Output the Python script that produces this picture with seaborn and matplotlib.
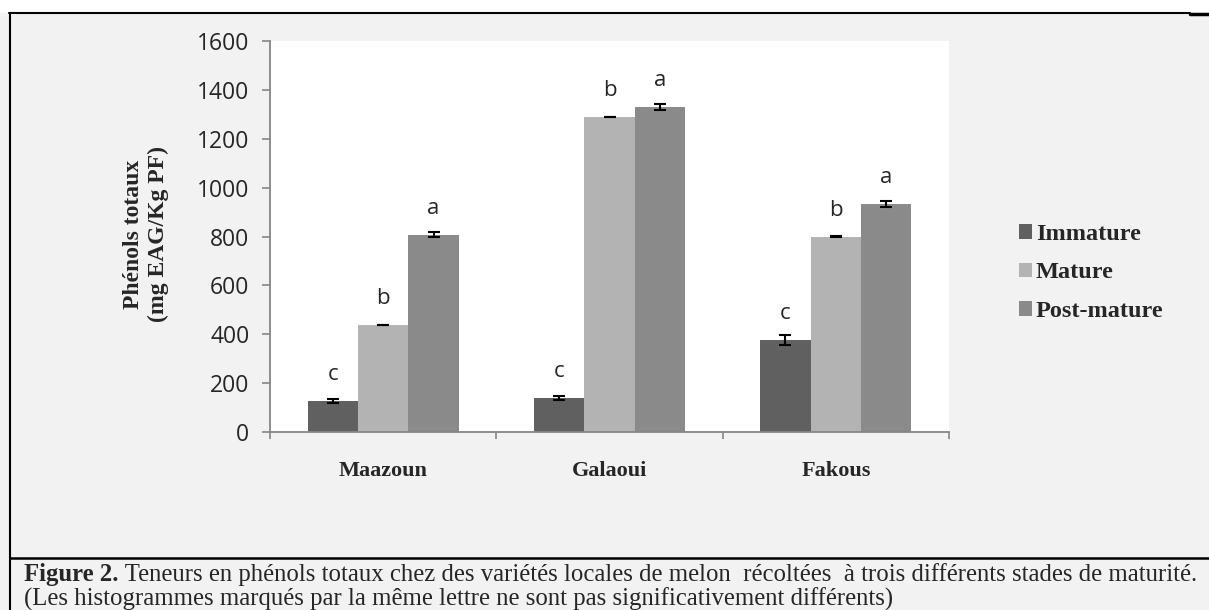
import numpy as np
import pandas as pd
import seaborn as sns
import matplotlib.pyplot as plt
from matplotlib.patches import Patch, Rectangle
from matplotlib.lines import Line2D

# data
varieties = ['Maazoun', 'Galaoui', 'Fakous']
stages = ['Immature', 'Mature', 'Post-mature']
immature = [128, 140, 375]
mature = [438, 1290, 800]
post_mature = [808, 1331, 934]
err_immature = [8, 8, 20]
err_mature = [1, 1, 1]
err_post_mature = [10, 12, 12]
letters_immature = ['c', 'c', 'c']
letters_mature = ['b', 'b', 'b']
letters_post_mature = ['a', 'a', 'a']
colors = ['#606060', '#b3b3b3', '#8a8a8a']

cap_bold = 'Figure 2.'
cap_rest = (' Teneurs en phénols totaux chez des variétés locales de melon  '
            'récoltées  à trois différents stades de maturité.')
cap_line2 = '(Les histogrammes marqués par la même lettre ne sont pas significativement différents)'

df = pd.DataFrame({
    'variety': varieties * 3,
    'stage': np.repeat(stages, 3),
    'value': immature + mature + post_mature,
})
errs = [err_immature, err_mature, err_post_mature]
letters = [letters_immature, letters_mature, letters_post_mature]

sns.set_style('white')
plt.rcParams['font.family'] = ['Open Sans', 'DejaVu Sans']
serif = 'Liberation Serif'

W, H = 1209, 610
fig = plt.figure(figsize=(W / 100, H / 100), dpi=100, facecolor='#f2f2f2')
ax = fig.add_axes([270 / W, 1 - 432 / H, (949 - 270) / W, (432 - 41) / H])
sns.barplot(data=df, x='variety', y='value', hue='stage', palette=colors,
            width=0.668, errorbar=None, saturation=1, legend=False, ax=ax,
            linewidth=0)

# error bars and letters
for cont, e, lab in zip(ax.containers, errs, letters):
    xs = [b.get_x() + b.get_width() / 2 for b in cont]
    hs = [b.get_height() for b in cont]
    ax.errorbar(xs, hs, yerr=e, fmt='none', ecolor='black', elinewidth=1.5,
                capsize=4.3, capthick=1.5)
    for x, h, t in zip(xs, hs, lab):
        ax.annotate(t, (x, h), xytext=(0, 19), textcoords='offset points',
                    ha='center', va='center', fontsize=16)

ax.set_ylim(0, 1600)
ax.set_yticks(range(0, 1601, 200))
ax.set_xlim(-0.5, 2.5)
ax.set_xticks([0, 1, 2], varieties, fontfamily=serif, fontweight='bold', fontsize=16)
ax.set_xticks([-0.5, 0.5, 1.5, 2.5], minor=True)
ax.set_xlabel('')
ax.set_ylabel('')
ax.set_facecolor('white')
for s in ['top', 'right']:
    ax.spines[s].set_visible(False)
for s in ['left', 'bottom']:
    ax.spines[s].set_color('#868686')
    ax.spines[s].set_linewidth(1.3)
ax.tick_params(axis='y', direction='out', length=5.8, width=1.2, color='#868686',
               pad=9, labelsize=16.5, left=True)
ax.tick_params(axis='x', which='major', length=0, pad=21)
ax.tick_params(axis='x', which='minor', direction='out', length=5, width=1.2,
               color='#868686', bottom=True)

fig.text(146 / W, 1 - 234 / H, 'Phénols totaux\n(mg EAG/Kg PF)', rotation=90,
         ha='center', va='center', multialignment='center', family=serif,
         weight='bold', size=17, linespacing=1.25)

handles = [Patch(facecolor=c, edgecolor='none') for c in colors]
fig.legend(handles, stages, loc='center left', bbox_to_anchor=(1019 / W, 1 - 273 / H),
           frameon=False, prop={'family': serif, 'weight': 'bold', 'size': 17.5},
           handlelength=0.55, handleheight=0.55, handletextpad=0.15,
           labelspacing=0.72, borderpad=0, borderaxespad=0)

# frame lines and white strip on top
fig.add_artist(Rectangle((0, 1 - 13 / H), 1, 13 / H, transform=fig.transFigure,
                         facecolor='white', edgecolor='none', zorder=0))
fig.add_artist(Line2D([9 / W, 1190 / W], [1 - 13 / H] * 2, color='black', lw=1.5))
fig.add_artist(Line2D([1190 / W, 1], [1 - 14 / H] * 2, color='black', lw=2.5))
fig.add_artist(Line2D([10 / W, 10 / W], [0, 1 - 13 / H], color='black', lw=1.5))
fig.add_artist(Line2D([10 / W, 1], [1 - 558 / H] * 2, color='black', lw=1.8))

# caption sized to the width of the box
renderer = fig.canvas.get_renderer()


def caption_width(fs):
    t1 = fig.text(0, 0, cap_bold, fontsize=fs, fontweight='bold', family=serif)
    t2 = fig.text(0, 0, cap_rest, fontsize=fs, family=serif)
    w = t1.get_window_extent(renderer).width + t2.get_window_extent(renderer).width
    t1.remove()
    t2.remove()
    return w


fs = 14 * 1180 / caption_width(14)
x0 = 24 / W
t1 = fig.text(x0, 1 - 575 / H, cap_bold, fontsize=fs, fontweight='bold',
              family=serif, va='center')
w1 = t1.get_window_extent(renderer).width
fig.text(x0 + w1 / W, 1 - 575 / H, cap_rest, fontsize=fs, family=serif, va='center')
fig.text(x0, 1 - 599 / H, cap_line2, fontsize=fs, family=serif, va='center')

fig.savefig('out.png', dpi=100, facecolor=fig.get_facecolor())
